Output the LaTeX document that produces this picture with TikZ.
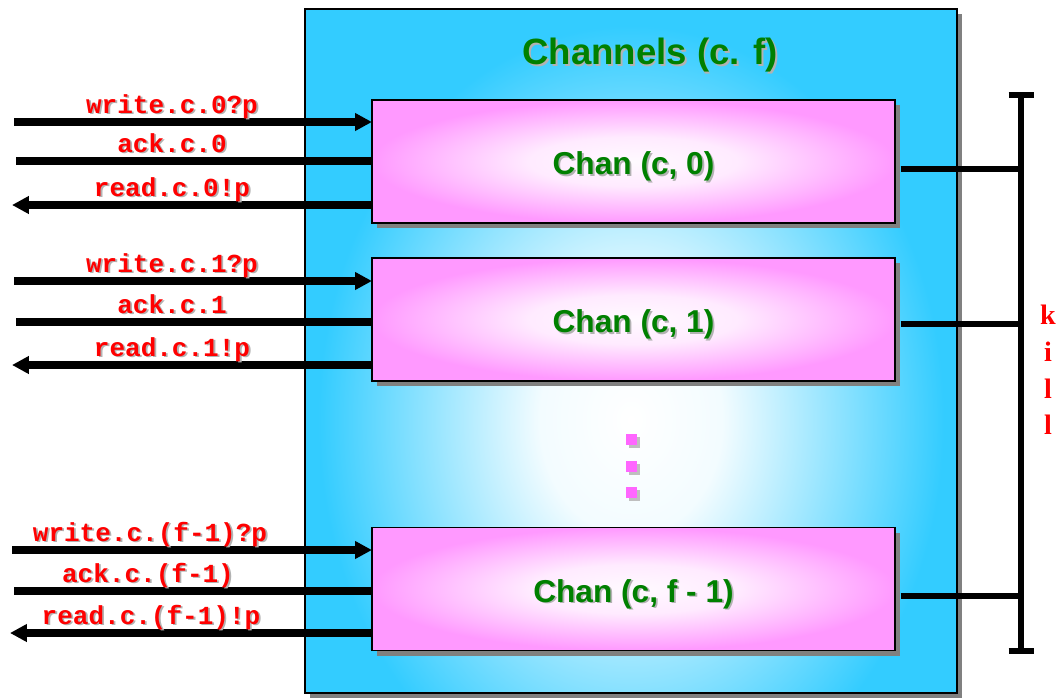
\documentclass[tikz,border=0pt]{standalone}
\usepackage{fontspec}
\setmainfont{Liberation Serif}
\setsansfont{Liberation Sans}
\setmonofont{Liberation Mono}
\usepackage{xcolor}
\usepackage{tikz}
\usetikzlibrary{positioning,calc,arrows.meta,shadows}

\definecolor{chancyan}{RGB}{51,204,255}
\definecolor{chanpink}{RGB}{255,153,255}
\definecolor{dotpink}{RGB}{255,102,255}
\definecolor{labelgreen}{RGB}{0,128,0}

% path edge sits at 25bp
\pgfdeclareradialshading{cyanglow}{\pgfpoint{0bp}{0bp}}{%
  color(0bp)=(white); color(7bp)=(white!94!chancyan);
  color(24bp)=(chancyan); color(50bp)=(chancyan)}
\pgfdeclareradialshading{pinkglow}{\pgfpoint{0bp}{0bp}}{%
  color(0bp)=(chanpink!5!white); color(10bp)=(chanpink!20!white);
  color(25bp)=(chanpink); color(50bp)=(chanpink)}

% text with a small grey drop shadow
\newcommand{\shadowed}[2]{\rlap{\kern1.3pt\raisebox{-1.3pt}{\textcolor{black!30}{#2}}}\textcolor{#1}{#2}}

\begin{document}
\begin{tikzpicture}[
		x=0.025cm, y=-0.025cm,
		every node/.style={inner sep=0pt, outer sep=0pt},
		outer_box/.style={
			draw=black, line width=1pt, fill=chancyan,
			minimum width=16.3cm, minimum height=17.1cm,
			path picture={\shade[shading=cyanglow] ($(path picture bounding box.center)+(0,70)$) ellipse [x radius=325, y radius=410];},
			drop shadow={shadow xshift=0.13cm, shadow yshift=-0.13cm, fill=black!50, opacity=1}
		},
		chan_box/.style={
			draw=black, line width=1pt,
			minimum width=13.075cm, minimum height=3.075cm,
			shading=pinkglow,
			drop shadow={shadow xshift=0.13cm, shadow yshift=-0.13cm, fill=black!50, opacity=1},
			font=\sffamily\bfseries\fontsize{22.5}{26}\selectfont,
			text height=23.5pt, text depth=4.8pt
		},
		title_text/.style={font=\sffamily\bfseries\fontsize{26}{30}\selectfont},
		dot_box/.style={
			fill=dotpink, minimum size=0.275cm,
			drop shadow={shadow xshift=0.075cm, shadow yshift=-0.075cm, fill=black!25, opacity=1}
		},
		sig_label/.style={anchor=base, font=\ttfamily\bfseries\fontsize{18.5}{20}\selectfont},
		in_arrow/.style={-{Triangle[length=0.42cm, width=0.42cm]}, line width=5pt},
		out_arrow/.style={-{Triangle[length=0.42cm, width=0.42cm]}, line width=5pt},
		plain_line/.style={line width=5pt},
		kill_line/.style={line width=4.3pt, shorten <=0.14cm},
		bar_line/.style={line width=4.5pt}
	]
	\useasboundingbox (0,0) rectangle (1056,697);
	
	% --- 1. outer process box ---
	\node[outer_box] (channels) at (631,351) {};
	\node[title_text] (title) at (650,56) {\shadowed{labelgreen}{Channels (c. f)}};
	
	% --- 2. the channel boxes ---
	\node[chan_box] (chan0) at (633.5,161.5) {\shadowed{labelgreen}{Chan (c, 0)}};
	\node[chan_box] (chan1) at (633.5,319.5) {\shadowed{labelgreen}{Chan (c, 1)}};
	\node[chan_box] (chan2) at (633.5,589) {\shadowed{labelgreen}{Chan (c, f - 1)}};
	
	\node[dot_box] (dot1) at (631,439) {};
	\node[dot_box] (dot2) at (631,466) {};
	\node[dot_box] (dot3) at (631,492) {};
	
	% --- 3. signals of Chan (c, 0) ---
	\coordinate (w0) at (14,122);
	\coordinate (a0) at (16,161);
	\coordinate (r0) at (12,205);
	\draw[in_arrow] (w0) -- (w0 -| chan0.west);
	\draw[plain_line] (a0) -- (a0 -| chan0.west);
	\draw[out_arrow] (r0 -| chan0.west) -- (r0);
	\node[sig_label] (lw0) at (172,113) {\shadowed{red}{write.c.0?p}};
	\node[sig_label] (la0) at (172,152) {\shadowed{red}{ack.c.0}};
	\node[sig_label] (lr0) at (172,196) {\shadowed{red}{read.c.0!p}};
	
	% --- 4. signals of Chan (c, 1) ---
	\coordinate (w1) at (14,281);
	\coordinate (a1) at (16,322);
	\coordinate (r1) at (12,365);
	\draw[in_arrow] (w1) -- (w1 -| chan1.west);
	\draw[plain_line] (a1) -- (a1 -| chan1.west);
	\draw[out_arrow] (r1 -| chan1.west) -- (r1);
	\node[sig_label] (lw1) at (172,272) {\shadowed{red}{write.c.1?p}};
	\node[sig_label] (la1) at (172,313) {\shadowed{red}{ack.c.1}};
	\node[sig_label] (lr1) at (172,356) {\shadowed{red}{read.c.1!p}};
	
	% --- 5. signals of Chan (c, f - 1) ---
	\coordinate (w2) at (12,550);
	\coordinate (a2) at (14,591);
	\coordinate (r2) at (10,633);
	\draw[in_arrow] (w2) -- (w2 -| chan2.west);
	\draw[plain_line] (a2) -- (a2 -| chan2.west);
	\draw[out_arrow] (r2 -| chan2.west) -- (r2);
	\node[sig_label] (lw2) at (150,541) {\shadowed{red}{write.c.(f-1)?p}};
	\node[sig_label] (la2) at (148,582) {\shadowed{red}{ack.c.(f-1)}};
	\node[sig_label] (lr2) at (151,624) {\shadowed{red}{read.c.(f-1)!p}};
	
	% --- 6. kill bar on the right ---
	\coordinate (bar_top) at (1021,95);
	\coordinate (bar_bot) at (1021,651);
	\draw[bar_line] (bar_top) -- (bar_bot);
	\draw[bar_line] ($(bar_top)+(-12.5,0)$) -- ($(bar_top)+(12.5,0)$);
	\draw[bar_line] ($(bar_bot)+(-12.5,0)$) -- ($(bar_bot)+(12.5,0)$);
	
	\coordinate (k0) at (1021,169);
	\coordinate (k1) at (1021,324);
	\coordinate (k2) at (1021,596);
	\draw[kill_line] (k0 -| chan0.east) -- (k0);
	\draw[kill_line] (k1 -| chan1.east) -- (k1);
	\draw[kill_line] (k2 -| chan2.east) -- (k2);
	
	\node[align=center, text=red, font=\bfseries\fontsize{20}{26}\selectfont] (kill_label) at (1048,370) {k\\i\\l\\l};
	
\end{tikzpicture}
\end{document}
